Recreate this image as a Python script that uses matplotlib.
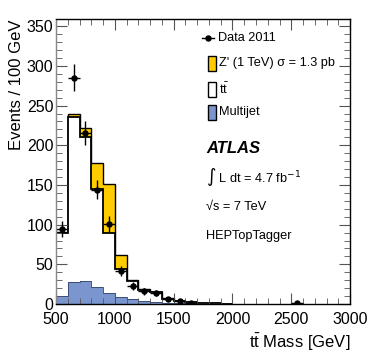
import numpy as np
import matplotlib.pyplot as plt
from matplotlib.patches import Rectangle
from matplotlib.ticker import MultipleLocator

plt.rcParams['font.family'] = ['Liberation Sans', 'DejaVu Sans']

# bin edges 500 - 2000 GeV, 100 GeV wide
edges = np.arange(500, 2100, 100)
multijet = [10.5, 27.5, 29, 21, 14, 9.5, 6.5, 4, 3, 1.5, 1.0, 0.6, 0.4, 0.2, 0.1]
ttbar = [79, 208.5, 181, 124, 75, 34.5, 22.5, 14, 12, 5.5, 3.2, 1.9, 1.1, 0.8, 0.4]
zprime = [1, 3, 12, 33, 62, 18, 1, 1, 0.3, 0.2, 0.1, 0.1, 0.05, 0.05, 0.0]

data_x = [550, 650, 750, 850, 950, 1050, 1150, 1250, 1350, 1450, 1550, 1650, 2550]
data_y = [95, 285, 215, 144, 101, 42, 23, 16, 14, 6, 4, 1.5, 1]
data_err = [10, 17, 15, 12, 10, 6.5, 4.8, 4, 3.7, 2.4, 2, 1.2, 1]

fig = plt.figure(figsize=(3.74, 3.59), dpi=100)
ax = fig.add_axes([0.150, 0.153, 0.786, 0.794])

mj = np.array(multijet)
tt_top = mj + np.array(ttbar)
tot = tt_top + np.array(zprime)

ax.stairs(tot, edges, fill=True, color='#FFCC00')
ax.stairs(tot, edges, color='black', lw=1)
ax.stairs(tt_top, edges, fill=True, color='white')
ax.stairs(tt_top, edges, color='black', lw=1.3)
ax.stairs(mj, edges, fill=True, color='#7B96CF')
ax.stairs(mj, edges, color='#30406a', lw=0.6)

ax.errorbar(data_x, data_y, yerr=data_err, xerr=50, fmt='o', color='black',
            ms=3.6, elinewidth=1, capsize=0)

ax.set_xlim(500, 3000)
ax.set_ylim(0, 359)
ax.xaxis.set_major_locator(MultipleLocator(500))
ax.xaxis.set_minor_locator(MultipleLocator(100))
ax.yaxis.set_major_locator(MultipleLocator(50))
ax.yaxis.set_minor_locator(MultipleLocator(10))
ax.tick_params(which='both', direction='in', top=True, right=True, labelsize=11.5,
               color='#555555')
ax.tick_params(which='major', length=8)
ax.tick_params(which='minor', length=4)
ax.tick_params(axis='x', pad=6)
ax.tick_params(axis='y', pad=2)
for s in ax.spines.values():
    s.set_linewidth(1.0)
ax.spines['left'].set_color('#888888')

ax.set_ylabel('Events / 100 GeV', fontsize=12, loc='top', labelpad=2)
ax.set_xlabel(r'$\mathregular{t\bar{t}}$ Mass [GeV]', fontsize=12, loc='right',
              labelpad=3)

# legend built by hand
fs = 9.2
tr = ax.transAxes
def ax_xy(px, py):
    return ((px - 56) / 294.0, (304 - py) / 285.0)

x0, y0 = ax_xy(208, 38)
ax.plot([x0 - 0.02, x0 + 0.02], [y0, y0], color='black', lw=1, transform=tr)
ax.plot([x0], [y0], 'o', color='black', ms=3.6, transform=tr)
ax.text(x0 + 0.035, y0, 'Data 2011', fontsize=fs, va='center', transform=tr)

entries = [(63, '#FFCC00', "Z' (1 TeV) \u03c3 = 1.3 pb"),
           (89, 'white', r'$\mathregular{t\bar{t}}$'),
           (112, '#7B96CF', 'Multijet')]
for py, col, lab in entries:
    bx, by = ax_xy(208, py + 8)
    ax.add_patch(Rectangle((bx, by), 0.028, 0.053, facecolor=col, edgecolor='black',
                           lw=1, transform=tr))
    tx, ty = ax_xy(219, py)
    ax.text(tx, ty, lab, fontsize=fs, va='center', transform=tr)

tx, ty = ax_xy(206, 148)
ax.text(tx, ty, 'ATLAS', fontsize=12, fontweight='bold', fontstyle='italic',
        va='center', transform=tr)
tx, ty = ax_xy(206, 177)
ax.text(tx, ty, r'$\int$ L dt = 4.7 fb$^{-1}$', fontsize=fs, va='center', transform=tr)
tx, ty = ax_xy(206, 207)
ax.text(tx, ty, '\u221as = 7 TeV', fontsize=fs, va='center', transform=tr)
tx, ty = ax_xy(206, 236)
ax.text(tx, ty, 'HEPTopTagger', fontsize=fs, va='center', transform=tr)

fig.savefig('out.png', dpi=100)
